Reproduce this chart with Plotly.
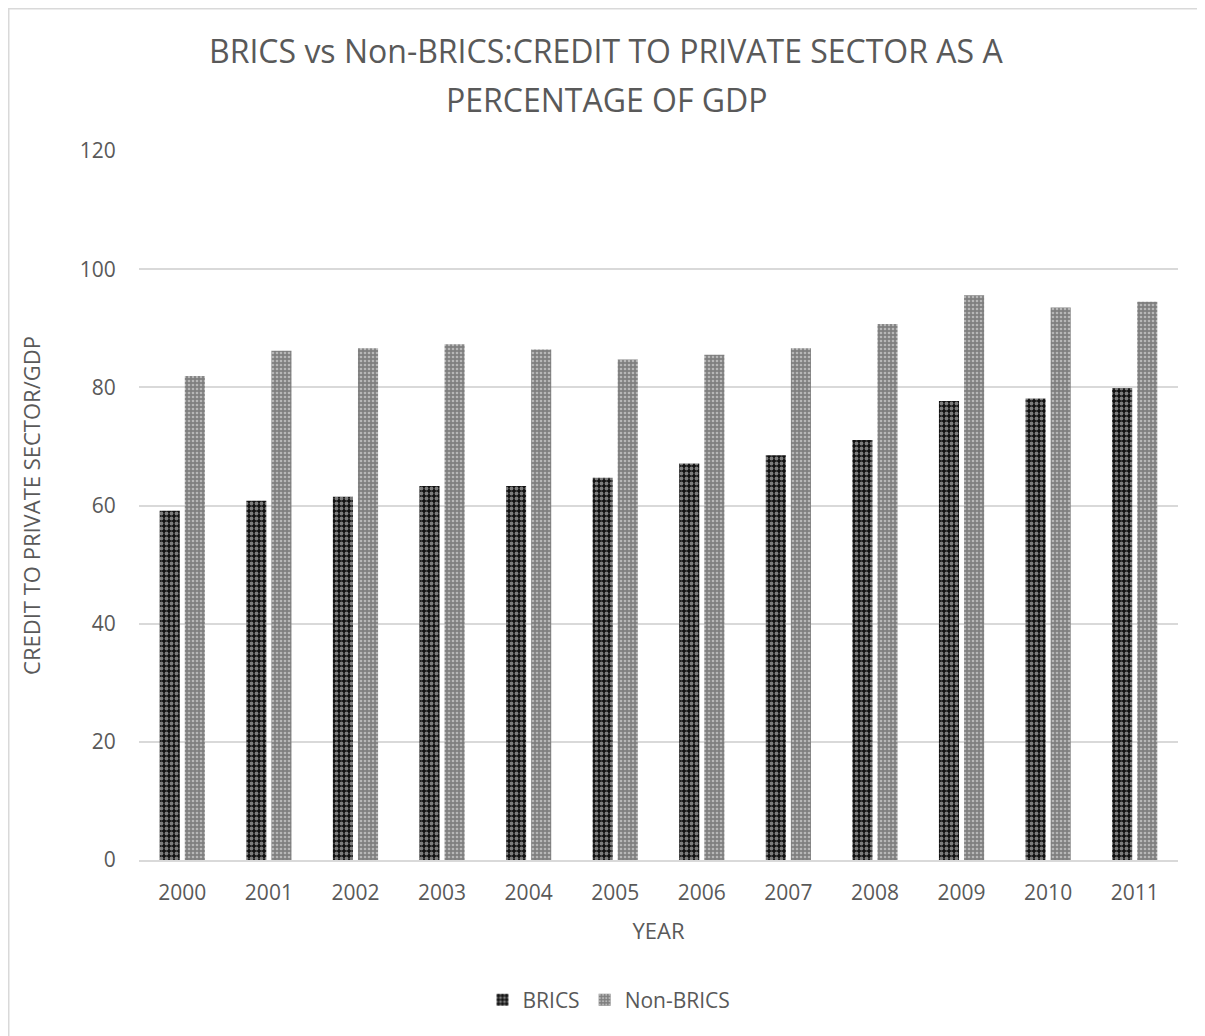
import plotly.graph_objects as go

years = ["2000","2001","2002","2003","2004","2005","2006","2007","2008","2009","2010","2011"]
brics = [59.1, 60.8, 61.5, 63.3, 63.3, 64.7, 67.1, 68.5, 71.1, 77.7, 78.1, 79.9]
non_brics = [81.9, 86.2, 86.6, 87.3, 86.4, 84.7, 85.5, 86.6, 90.7, 95.6, 93.5, 94.5]
title_lines = ["BRICS vs Non-BRICS:CREDIT TO PRIVATE SECTOR AS A", "PERCENTAGE OF GDP"]

W, H = 1205, 1036
L, R, T, B = 131, 35, 143, 184
pw, ph = W - L - R, H - T - B

fig = go.Figure()
fig.add_trace(go.Bar(
    x=years, y=brics, name="BRICS",
    marker=dict(color="#111111", line=dict(width=0),
                pattern=dict(shape=".", fgcolor="#e8e8e8", bgcolor="#111111", size=5, solidity=0.45, fillmode="overlay")),
))
fig.add_trace(go.Bar(
    x=years, y=non_brics, name="Non-BRICS",
    marker=dict(color="#8a8a8a", line=dict(width=0),
                pattern=dict(shape=".", fgcolor="#f0f0f0", bgcolor="#7f7f7f", size=4, solidity=0.35, fillmode="overlay")),
))

font_family = "Open Sans, Noto Sans, sans-serif"
annotations = []
for txt, yc in zip(title_lines, [42, 92]):
    annotations.append(dict(text=txt, xref="paper", yref="paper",
                            x=(598 - L) / pw, y=(H - yc - B) / ph,
                            xanchor="center", yanchor="middle", showarrow=False,
                            font=dict(size=32, color="#595959", family=font_family)))

fig.update_layout(
    width=W, height=H,
    margin=dict(l=L, r=R, t=T, b=B),
    paper_bgcolor="white", plot_bgcolor="white",
    barmode="group", bargap=0.42, bargroupgap=0.2,
    font=dict(family=font_family, color="#595959", size=21),
    annotations=annotations,
    xaxis=dict(showgrid=False, showline=True, linecolor="#d9d9d9", linewidth=1.5,
               ticks="outside", ticklen=13, tickcolor="rgba(0,0,0,0)",
               title=dict(text="YEAR", font=dict(size=22), standoff=19),
               tickfont=dict(size=21)),
    yaxis=dict(range=[0, 120], dtick=20, showgrid=True, gridcolor="#d9d9d9", gridwidth=1.5,
               zeroline=False, showline=False,
               ticks="outside", ticklen=18, tickcolor="rgba(0,0,0,0)",
               title=dict(text="CREDIT TO PRIVATE SECTOR/GDP", font=dict(size=22), standoff=33),
               tickfont=dict(size=21)),
    legend=dict(orientation="h", x=(601 - L) / pw, xanchor="center", y=-(992 - (T + ph)) / ph, yanchor="middle",
                font=dict(size=21, color="#595959"), itemwidth=30),
    shapes=[dict(type="rect", xref="paper", yref="paper",
                 x0=(0.75 - L) / pw, x1=(W + 20 - L) / pw,
                 y0=(H - (H + 20) - B) / ph, y1=(H - 0.75 - B) / ph,
                 line=dict(color="#d9d9d9", width=1.5), fillcolor="rgba(0,0,0,0)", layer="below")],
)

fig.write_html("out.html")
